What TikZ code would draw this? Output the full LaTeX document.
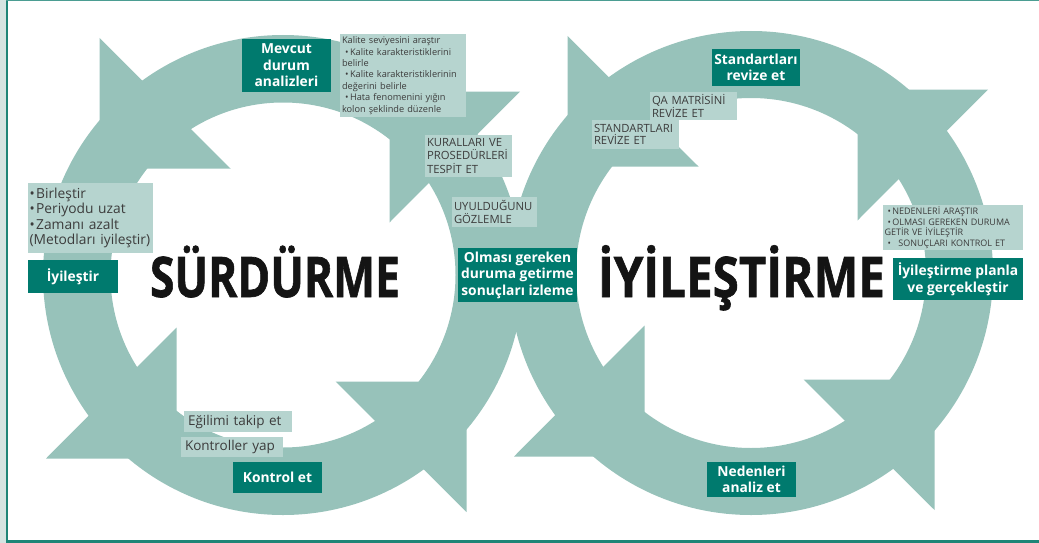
\documentclass[tikz,border=0pt]{standalone}
\usepackage{fontspec}
\usepackage{graphicx}
\setmainfont{Open Sans}
\newfontfamily\heavyfont[BoldFeatures={FakeBold=1.2}]{Open Sans}
\usetikzlibrary{calc}
\definecolor{ringc}{HTML}{97C2BA}
\definecolor{dteal}{HTML}{007A6E}
\definecolor{lbox}{HTML}{B6D4CF}
\definecolor{tgray}{HTML}{3C3C3C}
\definecolor{framec}{HTML}{1E8577}
\definecolor{stripc}{HTML}{D5E4E1}

% the four arrowheads of one ring, relative to its centre (screen axes, y down)
\newcommand\ringheads[1]{%
  \fill[ringc] ($(#1)+(183.5,237)$)   -- ($(#1)+(183.5,106.5)$)   -- ($(#1)+(52.5,106.5)$)   -- cycle;
  \fill[ringc] ($(#1)+(237,-183.5)$)  -- ($(#1)+(106.5,-183.5)$)  -- ($(#1)+(106.5,-52.5)$)  -- cycle;
  \fill[ringc] ($(#1)+(-183.5,-237)$) -- ($(#1)+(-183.5,-106.5)$) -- ($(#1)+(-52.5,-106.5)$) -- cycle;
  \fill[ringc] ($(#1)+(-237,183.5)$)  -- ($(#1)+(-106.5,183.5)$)  -- ($(#1)+(-106.5,52.5)$)  -- cycle;
}
\newcommand\bul{\textbullet\hspace{1.5pt}}

\begin{document}
\begin{tikzpicture}[x=1pt,y=-1pt,
  darkbox/.style={fill=dteal,text=white,align=center,inner sep=0pt,
    font=\bfseries\fontsize{13.8}{16.5}\selectfont},
  lightbox/.style={fill=lbox,text=tgray,align=left,inner xsep=2pt,inner ysep=0pt},
  capsbox/.style={lightbox,font=\fontsize{11.3}{13.3}\selectfont},
  bigword/.style={text=black!92,inner sep=0pt,anchor=base,
    font=\heavyfont\bfseries\fontsize{56}{60}\selectfont}
]
\useasboundingbox (0,0) rectangle (1039,543);

% frame
\fill[stripc] (0,0) rectangle (6,543);
\draw[framec,line width=2pt] (7,0) -- (7,543);
\draw[framec,line width=3pt] (6,541.5) -- (1039,541.5);
\draw[framec!80,line width=1.5pt] (6,0.5) -- (1039,0.5);

% ring centres
\coordinate (L) at (283,275);
\coordinate (R) at (751,273);

% left ring (SDCA)
\fill[ringc,even odd rule] (L) circle[radius=240pt] (L) circle[radius=172.5pt];
\ringheads{L}

% right ring (PDCA)
\fill[ringc,even odd rule] (R) circle[radius=242pt] (R) circle[radius=175pt];
\ringheads{R}

% big words
\node[bigword] (sd) at (275,297) {\resizebox{250pt}{\height}{SÜRDÜRME}};
\node[bigword] (iy) at (741.5,297) {\resizebox{287pt}{\height}{İYİLEŞTİRME}};

% left ring boxes
\node[darkbox,minimum width=89pt,minimum height=53pt] (mevcut) at (286.5,65.5)
  {Mevcut\\durum\\analizleri};
\node[lightbox,minimum width=126pt,minimum height=83pt,text width=122pt,
  font=\fontsize{9.2}{11.4}\selectfont] (kalite) at (403,75.5)
  {Kalite seviyesini araştır\\
   \ \bul Kalite karakteristiklerini\\belirle\\
   \ \bul Kalite karakteristiklerinin\\değerini belirle\\
   \ \bul Hata fenomenini yığın\\kolon şeklinde düzenle};
\node[capsbox,minimum width=87pt,minimum height=42pt,text width=83pt] (kural) at (468.5,156)
  {KURALLARI VE\\PROSEDÜRLERİ\\TESPİT ET};
\node[capsbox,minimum width=85pt,minimum height=30pt,text width=81pt] (uyul) at (494.5,212)
  {UYULDUĞUNU\\GÖZLEMLE};
\node[darkbox,minimum width=119pt,minimum height=54pt] (olmasi) at (517.5,275)
  {Olması gereken\\duruma getirme\\sonuçları izleme};
\node[lightbox,minimum width=125pt,minimum height=70pt,text width=122pt,inner xsep=1.5pt,
  font=\fontsize{13.8}{15.4}\selectfont] (birles) at (90.5,218)
  {\bul Birleştir\\\bul Periyodu uzat\\\bul Zamanı azalt\\(Metodları iyileştir)};
\node[darkbox,minimum width=90pt,minimum height=33pt] (iyiles) at (73,276.5) {İyileştir};
\node[lightbox,minimum width=108pt,minimum height=21pt,text width=100pt,inner xsep=4pt,
  font=\fontsize{13.5}{15}\selectfont] (egilim) at (238,421.5) {Eğilimi takip et};
\node[lightbox,minimum width=102pt,minimum height=20pt,text width=94pt,inner xsep=4pt,
  font=\fontsize{13.5}{15}\selectfont] (kontrol) at (232,447) {Kontroller yap};
\node[darkbox,minimum width=89pt,minimum height=31pt] (kontet) at (277.5,477.5) {Kontrol et};

% right ring boxes
\node[darkbox,minimum width=88pt,minimum height=37pt] (stdrev) at (756,67.5)
  {Standartları\\revize et};
\node[capsbox,minimum width=87pt,minimum height=28pt,text width=83pt,
  font=\fontsize{11.3}{12}\selectfont] (qa) at (693.5,106)
  {QA MATRİSİNİ\\REVİZE ET};
\node[capsbox,minimum width=87pt,minimum height=29pt,text width=83pt,
  font=\fontsize{11.3}{12}\selectfont] (stdlar) at (635.5,134.5)
  {STANDARTLARI\\REVİZE ET};
\node[lightbox,minimum width=140pt,minimum height=45pt,text width=137pt,inner xsep=1.5pt,
  font=\fontsize{9}{10.8}\selectfont] (neden) at (953,227.5)
  {\ \bul NEDENLERİ ARAŞTIR\\
   \ \bul OLMASI GEREKEN DURUMA\\GETİR VE İYİLEŞTİR\\
   \ \bul\ \ SONUÇLARI KONTROL ET};
\node[darkbox,minimum width=130pt,minimum height=42pt,
  font=\bfseries\fontsize{13.8}{17}\selectfont] (plan) at (958,279)
  {İyileştirme planla\\ve gerçekleştir};
\node[darkbox,minimum width=89pt,minimum height=35pt] (nedan) at (751.5,479.5)
  {Nedenleri\\analiz et};
\end{tikzpicture}
\end{document}
